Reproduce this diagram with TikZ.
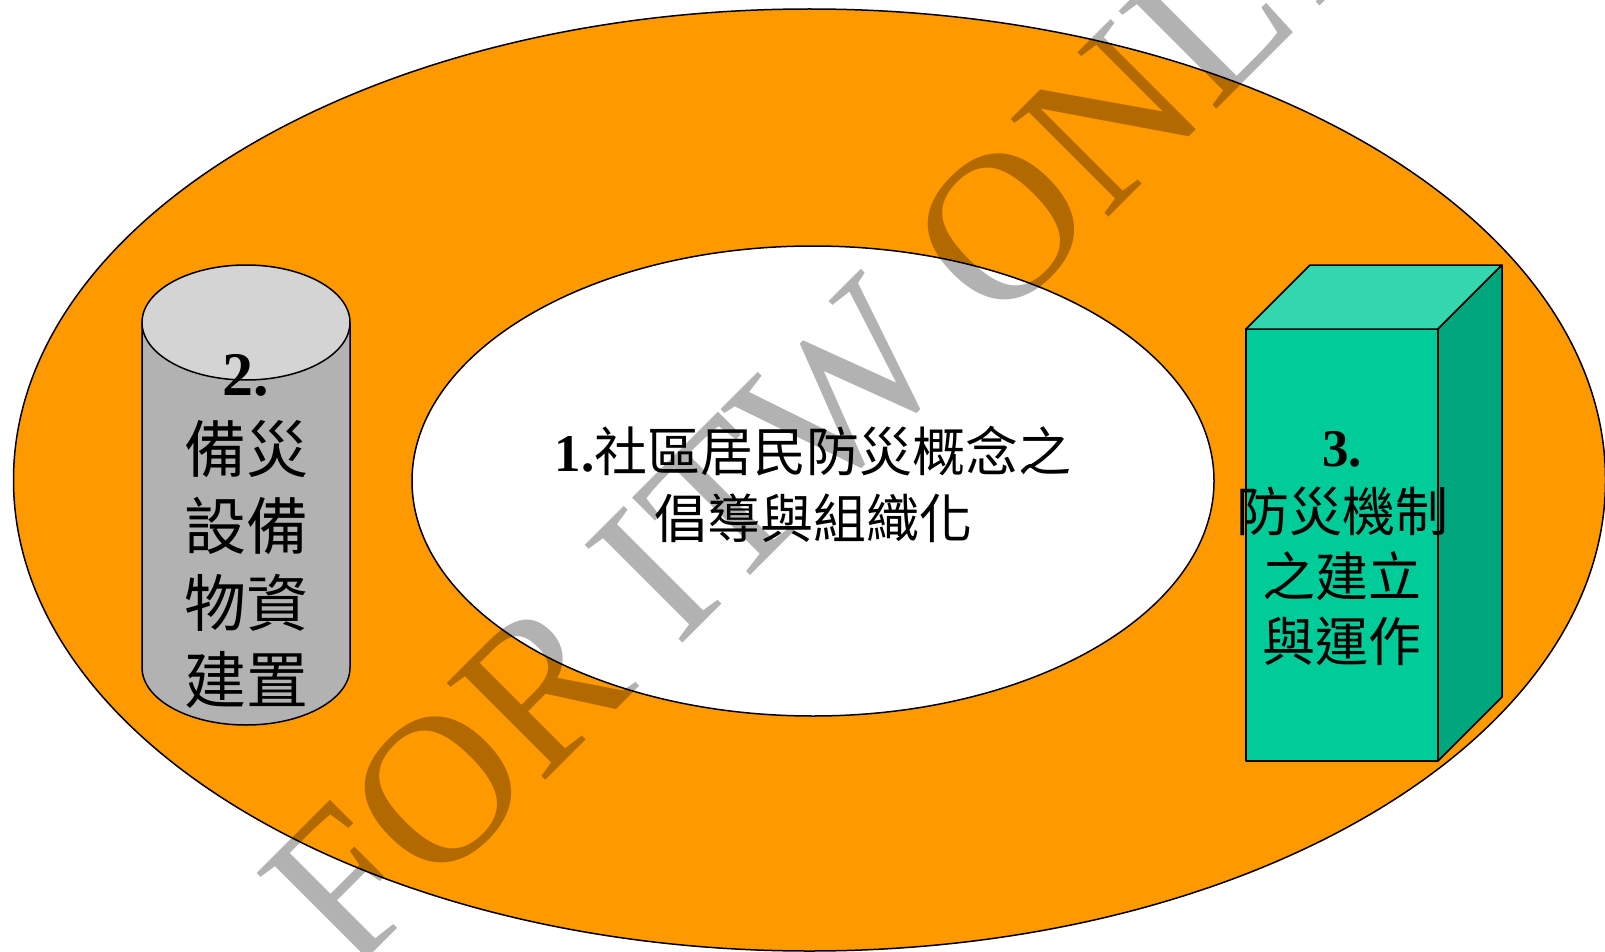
\documentclass[tikz,border=0pt]{standalone}
\usepackage{fontspec}
\setmainfont{Liberation Serif}
\newfontfamily\cjk{Noto Sans CJK TC}
\definecolor{ringorange}{HTML}{FF9900}
\definecolor{cyltop}{HTML}{D4D4D4}
\definecolor{cylbody}{HTML}{B2B2B2}
\definecolor{boxfront}{HTML}{00CC99}
\definecolor{boxtop}{HTML}{33D6AD}
\definecolor{boxside}{HTML}{00A67C}
\definecolor{wmark}{HTML}{B2B2B2}
\tikzset{
  outl/.style={draw=black, line width=1.5pt, line join=round},
  lbl/.style={align=center, text=black, inner sep=0pt},
}
\begin{document}
\begin{tikzpicture}[x=1pt, y=-1pt]
\useasboundingbox (0,0) rectangle (1605,952);
\fill[white] (0,0) rectangle (1605,952);
% outer ring and inner ellipse
\path[outl, fill=ringorange] (809.5,480) ellipse [x radius=796, y radius=471];
\path[outl, fill=white] (813,481) ellipse [x radius=401, y radius=235];
% cylinder
\fill[cylbody] (142,322.5) -- (142,667.5) arc[start angle=180, end angle=0, x radius=104, y radius=57.5] -- (350,322.5) -- cycle;
\draw[outl] (142,322.5) -- (142,667.5) arc[start angle=180, end angle=0, x radius=104, y radius=57.5] -- (350,322.5);
\path[outl, fill=cyltop] (246,322.5) ellipse [x radius=104, y radius=57.5];
% box
\path[outl, fill=boxfront] (1246,329) rectangle (1438,761);
\path[outl, fill=boxtop] (1246,329) -- (1310,265) -- (1502,265) -- (1438,329) -- cycle;
\path[outl, fill=boxside] (1438,329) -- (1502,265) -- (1502,697) -- (1438,761) -- cycle;
% texts
\node[lbl, font=\fontsize{53}{67}\selectfont] (t1) at (813,484)
  {\textbf{1.}{\cjk 社區居民防災概念之}\\{\cjk 倡導與組織化}};
\node[lbl, font=\fontsize{62}{77}\selectfont] (t2) at (246,531)
  {\textbf{2.}\\{\cjk 備災}\\{\cjk 設備}\\{\cjk 物資}\\{\cjk 建置}};
\node[lbl, font=\fontsize{53}{65}\selectfont] (t3) at (1342,549)
  {\textbf{3.}\\{\cjk 防災機制}\\{\cjk 之建立}\\{\cjk 與運作}};
% watermark
\begin{scope}[blend mode=multiply]
\node[text=wmark, anchor=base west, rotate=45, inner sep=0pt,
      font=\fontsize{211}{211}\selectfont] (wm) at (350,976) {FOR ITW ONLY};
\end{scope}
\end{tikzpicture}
\end{document}
